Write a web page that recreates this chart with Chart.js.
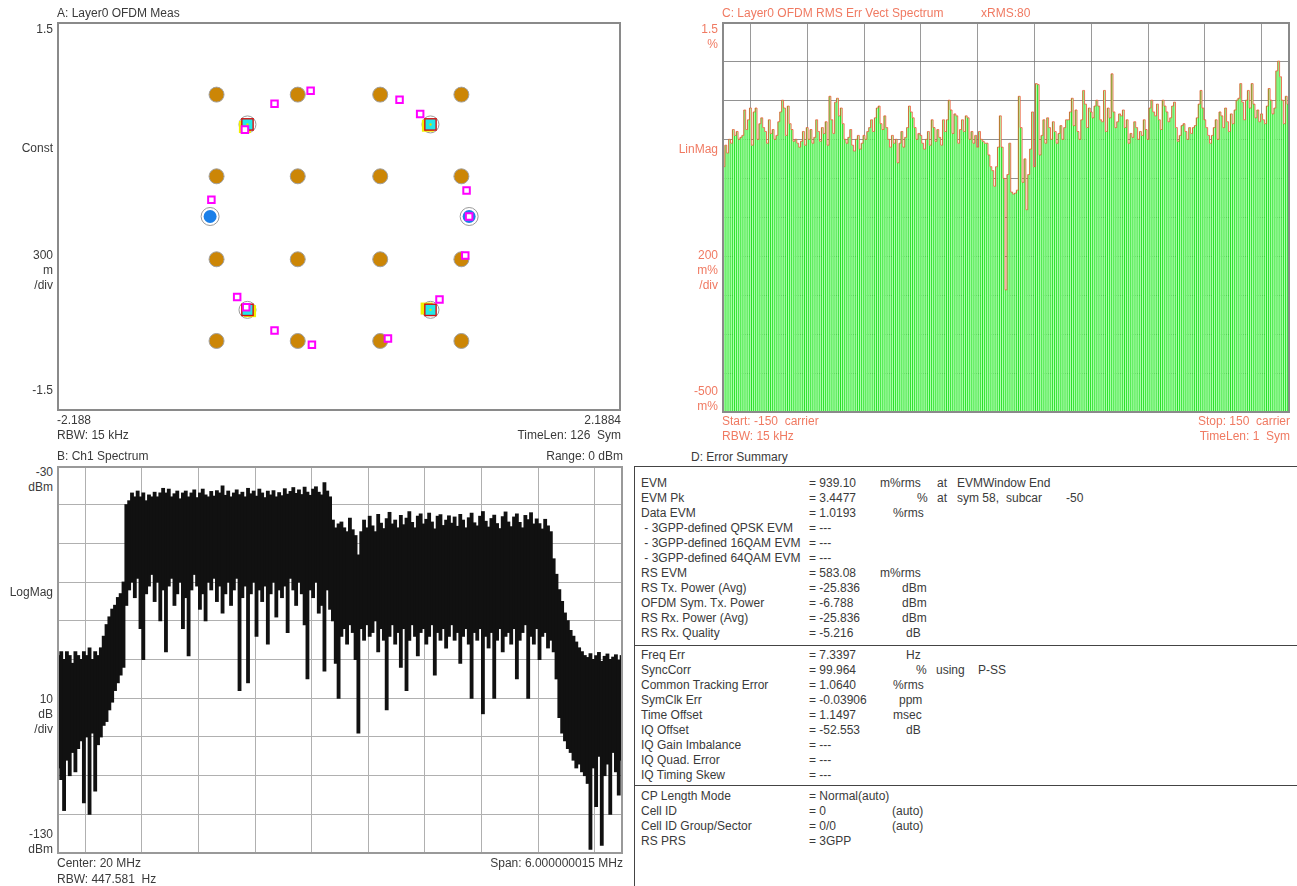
<!DOCTYPE html>
<html>
<head>
<meta charset="utf-8">
<script src="https://cdn.jsdelivr.net/npm/chart.js@4.4.0/dist/chart.umd.min.js"></script>
<style>
body { margin: 0; width: 1297px; height: 886px; position: relative; overflow: hidden; background: #fff;
       font-family: "Liberation Sans", Arial, sans-serif; font-size: 12px; color: #3a3a3a; }
.t { position: absolute; white-space: pre; line-height: 15px; }
.plot { position: absolute; }
.frame { position: absolute; border: 2px solid #8a8a8a; box-sizing: border-box; pointer-events: none; }
.sum { position: absolute; left: 634px; top: 466px; width: 700px; height: 440px; border: 1px solid #444; box-sizing: border-box; }
.sep { position: absolute; left: 634px; width: 663px; height: 1px; background: #444; }
</style>
</head>
<body>
<canvas id="constChart" class="plot" width="564" height="389" style="left:57px;top:22px"></canvas>
<div class="frame" style="left:57px;top:22px;width:564px;height:389px"></div>
<canvas id="evmChart" class="plot" width="568" height="391" style="left:722px;top:22px"></canvas>
<div class="frame" style="left:722px;top:22px;width:568px;height:391px"></div>
<canvas id="specChart" class="plot" width="566" height="387" style="left:57px;top:466px"></canvas>
<div class="frame" style="left:57px;top:466px;width:566px;height:388px;border-color:#999"></div>
<div class="sum"></div>
<div class="sep" style="top:645px"></div>
<div class="sep" style="top:785px"></div>
<script>
// ---------- A: constellation ----------
const qam16I = [-0.95, -0.32, 0.32, 0.95];
const qam16Q = [0.94, 0.31, -0.33, -0.96];
const qpskPoints = [[-0.71, 0.71], [0.71, 0.71], [-0.71, -0.72], [0.71, -0.72]];
const qpskShadow = [[-0.73, 0.69], [0.69, 0.70], [-0.69, -0.73], [0.68, -0.71]];
const bpskPoints = [[-1.0, 0.0], [1.01, 0.0]];
const syncPoints = [[-0.50, 0.87], [-0.22, 0.97], [0.47, 0.90], [0.63, 0.79], [-0.73, 0.67],
                    [-0.99, 0.13], [0.99, 0.20], [0.98, -0.30], [-0.79, -0.62], [0.78, -0.64],
                    [-0.50, -0.88], [-0.21, -0.99], [0.38, -0.94], [1.01, 0.0], [-0.72, -0.70]];
const constXRange = [-2.188, 2.1884];
const constYRange = [-1.5, 1.5];

// ---------- C: EVM vs subcarrier (m%), carriers -150..150 ----------
const evmStart = -150, evmStop = 150;
const evmMilliPct = [
  910, 760, 870, 830, 900, 880, 950, 920, 940, 900,
  910, 920, 1050, 950, 1000, 1060, 870, 1040, 1060, 900,
  980, 1010, 960, 940, 880, 1000, 930, 950, 900, 920,
  990, 1040, 1100, 1060, 920, 1070, 980, 950, 890, 900,
  880, 860, 890, 940, 870, 960, 900, 950, 880, 910,
  1000, 940, 890, 960, 930, 990, 870, 1120, 1000, 930,
  1090, 1110, 1020, 1060, 980, 900, 880, 910, 950, 870,
  840, 900, 920, 850, 880, 920, 900, 940, 960, 1000,
  940, 1010, 1060, 1070, 980, 950, 1020, 960, 900, 860,
  920, 880, 900, 780, 880, 940, 860, 910, 960, 1070,
  1040, 1010, 960, 900, 930, 920, 880, 850, 900, 940,
  870, 1000, 960, 890, 950, 910, 870, 1000, 940, 1000,
  1100, 1050, 930, 1030, 1020, 880, 950, 1000, 940, 1020,
  1010, 900, 940, 880, 920, 860, 940, 900, 890, 880,
  880, 820, 760, 740, 660, 760, 860, 1020, 860, 700,
  130,
  720, 880, 630, 620, 625, 640, 1120, 960, 680, 800,
  540, 720, 850, 1040, 760, 1185, 1180, 820, 920, 1000,
  880, 1010, 960, 900, 990, 940, 880, 930, 970, 900,
  960, 1000, 1000, 1040, 1110, 970, 1050, 940, 900, 1000,
  1150, 1080, 960, 1060, 1040, 1010, 1070, 1100, 1070, 1000,
  990, 1150, 940, 1060, 1010, 1235, 1040, 960, 990, 1030,
  1020, 1050, 960, 1000, 880, 930, 910, 990, 960, 900,
  940, 920, 1000, 950, 900, 1060, 1100, 1040, 1020, 1080,
  1000, 950, 1100, 1070, 1040, 990, 1010, 1070, 1090, 960,
  890, 920, 970, 980, 940, 900, 960, 930, 960, 970,
  1010, 1080, 1150, 1060, 1000, 960, 920, 880, 920, 960,
  1000, 900, 1040, 1020, 960, 1060, 990, 940, 1030, 980,
  1050, 1100, 1110, 1185, 1090, 1000, 1100, 1150, 1060, 1185,
  1080, 1010, 1050, 990, 1030, 1000, 980, 1070, 1160, 1100,
  1030, 1060, 1250, 1300, 1220, 1100, 980, 1120, 1080, 1160
];
const evmRangePct = [-0.5, 1.5];

// ---------- B: spectrum, per-column max / min (dBm) ----------
const centerMHz = 20, spanMHz = 6.000000015;
const specTop = [
  -79, -78, -80, -78, -79, -81, -78, -79, -80, -78,
  -79, -77, -80, -78, -79, -77, -74, -71, -69, -67,
  -66, -64, -63, -60, -40, -39, -37, -38, -36.5, -38,
  -37, -39, -37.5, -38, -36.8, -38, -37, -35.8, -37, -36,
  -38, -37.2, -36.5, -38.5, -37, -36.5, -38, -37, -36.2, -38.2,
  -37, -36, -37.5, -38, -36.6, -37.8, -36.4, -37, -35.2, -37.6,
  -36.5, -38, -37, -36.2, -37.4, -36.8, -38, -35.8, -37.2, -36.5,
  -37.8, -36, -37, -38.2, -36.5, -37.5, -36.4, -38, -36.9, -37.7,
  -35.9, -37.3, -36.6, -35.6, -37.1, -36.2, -37.4, -35.5, -36.8, -37.6,
  -36, -35.4, -36.8, -37.5, -34.3, -36.5, -38, -44, -46, -45,
  -44.5, -46, -47, -43.5, -46.5, -48, -53, -47, -44, -46,
  -43, -45.5, -47, -42.5, -44.8, -46.2, -43.6, -42, -45, -44,
  -46, -42.8, -45.2, -43.5, -41.8, -44.6, -46, -43, -42.4, -45,
  -43.8, -42.2, -44.5, -46.3, -43, -42.6, -45.4, -44, -42.9, -44.8,
  -43.2, -45.6, -42.5, -44, -46, -43.4, -42.2, -44.7, -45.5, -43,
  -41.8, -44.3, -45.8, -43.6, -42.7, -44.9, -46.2, -43.1, -41.9, -44.5,
  -45.7, -43.2, -42.4, -44.6, -46, -42.8, -43.9, -42.1, -45, -43.7,
  -44.9, -46.3, -43.8, -45.5, -47, -54, -58, -62, -65, -68,
  -70, -72.5, -74, -75.5, -77, -78, -79, -79.5, -78.5, -80,
  -79, -78.2, -80.5, -79.2, -78.6, -80, -79.4, -78.8, -80.2, -79
];
const specBottom = [
  -108, -111, -119, -106, -110, -104, -109, -103, -101, -117,
  -100, -120, -99, -114, -102, -100, -97, -96, -93, -91,
  -88, -86, -84, -82, -66, -62, -60, -64, -59, -72,
  -80, -63, -61, -58, -65, -60, -70, -62, -78, -61,
  -59, -66, -63, -60, -72, -64, -79, -62, -58, -61,
  -67, -63, -70, -60, -62, -59, -65, -61, -68, -63,
  -60, -66, -62, -59, -88, -64, -61, -86, -63, -60,
  -74, -62, -65, -61, -76, -63, -60, -69, -62, -64,
  -61, -73, -59, -62, -66, -60, -63, -71, -85, -62,
  -64, -60, -68, -66, -83, -62, -67, -70, -81, -90,
  -74, -72, -76, -71, -73, -80, -99, -72, -75, -71,
  -74, -73, -70, -78, -72, -75, -93, -74, -71, -76,
  -73, -82, -72, -88, -75, -71, -74, -79, -73, -72,
  -76, -74, -71, -84, -73, -75, -72, -77, -74, -71,
  -75, -73, -81, -74, -72, -76, -90, -73, -75, -72,
  -94, -74, -77, -73, -90, -75, -72, -78, -74, -73,
  -76, -72, -85, -75, -73, -71, -90, -74, -76, -72,
  -80, -74, -73, -77, -75, -78, -85, -95, -99, -101,
  -103, -104, -106, -108, -107, -109, -110, -112, -129, -108,
  -118, -105, -128, -110, -107, -120, -104, -109, -115, -106
];
const specRangeDbm = [-130, -30];

// ---------- D: error summary ----------
const summaryGroups = [
  [
    ['EVM', '= 939.10', [880, 'm%rms'], [937, 'at'], [957, 'EVMWindow End']],
    ['EVM Pk', '= 3.4477', [917, '%'], [937, 'at'], [957, 'sym 58,'], [1006, 'subcar'], [1066, '-50']],
    ['Data EVM', '= 1.0193', [893, '%rms']],
    [' - 3GPP-defined QPSK EVM', '= ---'],
    [' - 3GPP-defined 16QAM EVM', '= ---'],
    [' - 3GPP-defined 64QAM EVM', '= ---'],
    ['RS EVM', '= 583.08', [880, 'm%rms']],
    ['RS Tx. Power (Avg)', '= -25.836', [902, 'dBm']],
    ['OFDM Sym. Tx. Power', '= -6.788', [902, 'dBm']],
    ['RS Rx. Power (Avg)', '= -25.836', [902, 'dBm']],
    ['RS Rx. Quality', '= -5.216', [906, 'dB']]
  ],
  [
    ['Freq Err', '= 7.3397', [906, 'Hz']],
    ['SyncCorr', '= 99.964', [916, '%'], [936, 'using'], [978, 'P-SS']],
    ['Common Tracking Error', '= 1.0640', [893, '%rms']],
    ['SymClk Err', '= -0.03906', [899, 'ppm']],
    ['Time Offset', '= 1.1497', [893, 'msec']],
    ['IQ Offset', '= -52.553', [906, 'dB']],
    ['IQ Gain Imbalance', '= ---'],
    ['IQ Quad. Error', '= ---'],
    ['IQ Timing Skew', '= ---']
  ],
  [
    ['CP Length Mode', '= Normal(auto)'],
    ['Cell ID', '= 0', [892, '(auto)']],
    ['Cell ID Group/Sector', '= 0/0', [892, '(auto)']],
    ['RS PRS', '= 3GPP']
  ]
];
const summaryGroupTop = [484, 656, 797];

// ---------- text helpers ----------
const accent = '#f07a62';
function label(x, y, text, right, color) {
  const d = document.createElement('div');
  d.className = 't';
  d.textContent = text;
  d.style.top = (y - 8) + 'px';
  if (right) { d.style.right = (1297 - x) + 'px'; d.style.textAlign = 'right'; }
  else d.style.left = x + 'px';
  if (color) d.style.color = color;
  document.body.appendChild(d);
}

// panel A texts
label(57, 14, 'A: Layer0 OFDM Meas');
label(53, 30, String(constYRange[1]), true);
label(53, 149, 'Const', true);
label(53, 256, '300\nm\n/div', true);
label(53, 391, String(constYRange[0]), true);
label(57, 421, String(constXRange[0]));
label(621, 421, String(constXRange[1]), true);
label(57, 436, 'RBW: 15 kHz');
label(621, 436, 'TimeLen: 126  Sym', true);

// panel C texts
label(722, 14, 'C: Layer0 OFDM RMS Err Vect Spectrum', false, accent);
label(981, 14, 'xRMS:80', false, accent);
label(718, 30, '1.5\n%', true, accent);
label(718, 150, 'LinMag', true, accent);
label(718, 256, '200\nm%\n/div', true, accent);
label(718, 392, '-500\nm%', true, accent);
label(722, 422, 'Start: ' + evmStart + '  carrier', false, accent);
label(722, 437, 'RBW: 15 kHz', false, accent);
label(1290, 422, 'Stop: ' + evmStop + '  carrier', true, accent);
label(1290, 437, 'TimeLen: 1  Sym', true, accent);

// panel B texts
label(57, 457, 'B: Ch1 Spectrum');
label(623, 457, 'Range: 0 dBm', true);
label(53, 473, specRangeDbm[1] + '\ndBm', true);
label(53, 593, 'LogMag', true);
label(53, 700, '10\ndB\n/div', true);
label(53, 835, specRangeDbm[0] + '\ndBm', true);
label(57, 864, 'Center: ' + centerMHz + ' MHz');
label(623, 864, 'Span: ' + spanMHz.toFixed(9) + ' MHz', true);
label(57, 880, 'RBW: 447.581  Hz');

// panel D texts
label(691, 458, 'D: Error Summary');
summaryGroups.forEach((rows, g) => {
  rows.forEach((row, r) => {
    const y = summaryGroupTop[g] + r * 15;
    label(641, y, row[0]);
    label(809, y, row[1]);
    row.slice(2).forEach(p => label(p[0], y, p[1]));
  });
});

// ---------- charts ----------
const bare = {
  ticks: { display: false },
  border: { display: false },
  afterFit: s => { if (s.isHorizontal()) s.height = 0; else s.width = 0; }
};
const baseOpts = {
  responsive: false,
  animation: false,
  events: [],
  layout: { padding: 0, autoPadding: false },
  plugins: { legend: { display: false }, tooltip: { enabled: false } }
};
const toXY = p => ({ x: p[0], y: p[1] });

// A
const qam16Points = [];
qam16Q.forEach(q => qam16I.forEach(i => qam16Points.push({ x: i, y: q })));
new Chart(document.getElementById('constChart'), {
  type: 'scatter',
  data: {
    datasets: [
      { data: syncPoints.map(toXY), pointStyle: 'rect', pointRadius: 4.6, borderWidth: 2,
        borderColor: '#ff00ff', backgroundColor: '#ffffff', order: 1 },
      { data: qpskPoints.map(toXY), pointStyle: 'circle', pointRadius: 1.2, borderWidth: 0,
        backgroundColor: '#e0e000', order: 2 },
      { data: qpskPoints.map(toXY), pointStyle: 'rect', pointRadius: 7, borderWidth: 0,
        backgroundColor: '#22e8e8', order: 3 },
      { data: qpskPoints.map(toXY), pointStyle: 'rect', pointRadius: 9, borderWidth: 0,
        backgroundColor: '#d01010', order: 4 },
      { data: qpskShadow.map(toXY), pointStyle: 'rect', pointRadius: 8.5, borderWidth: 0,
        backgroundColor: '#f0f000', order: 5 },
      { data: qpskPoints.map(toXY), pointStyle: 'circle', pointRadius: 8.5, borderWidth: 1,
        borderColor: '#999', backgroundColor: 'rgba(0,0,0,0)', order: 6 },
      { data: bpskPoints.map(toXY), pointStyle: 'circle', pointRadius: 6.5, borderWidth: 0,
        backgroundColor: '#1a7fe8', order: 7 },
      { data: bpskPoints.map(toXY), pointStyle: 'circle', pointRadius: 9, borderWidth: 1,
        borderColor: '#999', backgroundColor: '#ffffff', order: 8 },
      { data: qam16Points, pointStyle: 'circle', pointRadius: 7.5, borderWidth: 1,
        borderColor: '#a0a0a0', backgroundColor: '#cc8606', order: 9 }
    ]
  },
  options: Object.assign({}, baseOpts, {
    scales: {
      x: Object.assign({ type: 'linear', min: constXRange[0], max: constXRange[1], grid: { display: false } }, bare),
      y: Object.assign({ type: 'linear', min: constYRange[0], max: constYRange[1], grid: { display: false } }, bare)
    }
  })
});

// C
const evmXY = evmMilliPct.map((v, i) => ({ x: evmStart + i, y: v / 1000 }));
new Chart(document.getElementById('evmChart'), {
  data: {
    datasets: [
      { type: 'line', data: evmXY, borderColor: 'rgba(238,84,50,0.8)', borderWidth: 1,
        pointRadius: 0, stepped: 'middle', order: 1 },
      { type: 'bar', data: evmXY, base: evmRangePct[0], backgroundColor: '#b0ffb0',
        borderColor: '#22e022', borderWidth: { left: 1, right: 0, top: 0, bottom: 0 }, borderSkipped: false,
        barPercentage: 1, categoryPercentage: 1, order: 2 }
    ]
  },
  options: Object.assign({}, baseOpts, {
    scales: {
      x: Object.assign({ type: 'linear', min: evmStart, max: evmStop, offset: false,
        grid: { color: '#9a9a9a', drawTicks: false } }, bare,
        { ticks: { display: false, stepSize: 30 } }),
      y: Object.assign({ type: 'linear', min: evmRangePct[0], max: evmRangePct[1], z: 1,
        grid: { color: 'rgba(110,110,110,0.75)', drawTicks: false } }, bare,
        { ticks: { display: false, stepSize: 0.2 } })
    }
  })
});

// B: each column drawn as a floating bar from its min to its max
const colW = spanMHz / specTop.length;
const f0 = centerMHz - spanMHz / 2;
const specCols = specTop.map((t, i) => ({ x: f0 + (i + 0.5) * colW, y: [specBottom[i], t] }));
new Chart(document.getElementById('specChart'), {
  type: 'bar',
  data: {
    datasets: [
      { data: specCols, backgroundColor: '#111', borderWidth: 0,
        barPercentage: 1, categoryPercentage: 1, inflateAmount: 0.5 }
    ]
  },
  options: Object.assign({}, baseOpts, {
    scales: {
      x: Object.assign({ type: 'linear', min: f0, max: f0 + spanMHz, offset: false,
        grid: { color: '#b0b0b0', drawTicks: false } }, bare, { ticks: { display: false, stepSize: spanMHz / 10 } }),
      y: Object.assign({ type: 'linear', min: specRangeDbm[0], max: specRangeDbm[1],
        grid: { color: '#b0b0b0', drawTicks: false } }, bare, { ticks: { display: false, stepSize: 10 } })
    }
  })
});
</script>
</body>
</html>
